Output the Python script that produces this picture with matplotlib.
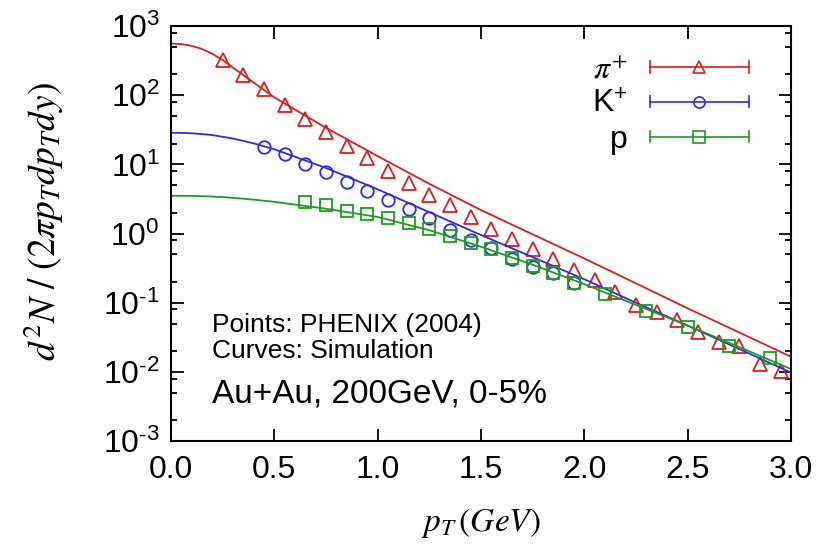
import math
import matplotlib
matplotlib.use("Agg")
import matplotlib.pyplot as plt
from matplotlib.lines import Line2D
from matplotlib.legend_handler import HandlerBase
from matplotlib.ticker import LogLocator, FixedLocator, FuncFormatter

# Data points (PHENIX 2004, Au+Au 200GeV 0-5%)
pion_pt = [0.25, 0.35, 0.45, 0.55, 0.65, 0.75, 0.85, 0.95, 1.05, 1.15, 1.25, 1.35, 1.45, 1.55,
           1.65, 1.75, 1.85, 1.95, 2.05, 2.15, 2.25, 2.35, 2.45, 2.55, 2.65, 2.75, 2.85, 2.95]
pion_y = [323, 196, 122, 72, 46, 29.7, 18.5, 12.2, 8.1, 5.4, 3.6, 2.6, 1.75, 1.15,
          0.83, 0.59, 0.43, 0.30, 0.213, 0.145, 0.093, 0.0745, 0.056, 0.038, 0.0274, 0.0238, 0.013, 0.0104]

kaon_pt = [0.45, 0.55, 0.65, 0.75, 0.85, 0.95, 1.05, 1.15, 1.25, 1.35, 1.45, 1.55, 1.65, 1.75, 1.85, 1.95]
kaon_y = [18, 14.1, 10.1, 7.7, 5.6, 4.17, 3.06, 2.24, 1.66, 1.13, 0.82, 0.61, 0.43, 0.333, 0.267, 0.19]

proton_pt = [0.65, 0.75, 0.85, 0.95, 1.05, 1.15, 1.25, 1.35, 1.45, 1.55, 1.65, 1.75, 1.85, 1.95,
             2.1, 2.3, 2.5, 2.7, 2.9]
proton_y = [2.89, 2.59, 2.14, 1.92, 1.66, 1.41, 1.15, 0.92, 0.72, 0.59, 0.44, 0.34, 0.27, 0.19,
            0.134, 0.077, 0.0443, 0.0238, 0.0158]

# Simulation curves
curve_pt = [0, 0.05, 0.1, 0.15, 0.2, 0.25, 0.3, 0.4, 0.5, 0.75, 1.0, 1.25, 1.5, 1.75, 2.0, 2.25, 2.5, 2.75, 3.0]
curve_pion = [562, 550, 519, 468, 398, 324, 251, 153, 93.3, 33.9, 13.2, 5.25, 2.19, 0.977, 0.437,
              0.191, 0.0832, 0.0372, 0.0166]
curve_kaon = [28.7, 28.6, 28.2, 27.5, 26.6, 25.1, 23.7, 20.2, 16.6, 8.9, 4.37, 2.04, 0.955, 0.457,
              0.219, 0.1, 0.0468, 0.0214, 0.0098]
curve_proton = [3.53, 3.52, 3.51, 3.48, 3.43, 3.37, 3.29, 3.10, 2.88, 2.29, 1.74, 1.12, 0.646, 0.355,
                0.186, 0.093, 0.0468, 0.0229, 0.011]

labels = [r"$\pi^{+}$", r"$\mathregular{K^{+}}$", r"$\mathregular{p}$"]
colors = ["#dd1c1c", "#2a2af2", "#1c9e1c"]
markers = ["^", "o", "s"]

plt.rcParams["font.family"] = ["Liberation Sans", "DejaVu Sans"]
plt.rcParams["mathtext.fontset"] = "stix"


# Legend entry looking like a gnuplot error bar sample: line with end caps and a marker
class HandlerBarra(HandlerBase):
	def create_artists(self, legend, orig_handle, xdescent, ydescent, width, height, fontsize, trans):
		y = height / 2 - ydescent
		x0 = -xdescent
		x1 = -xdescent + width
		c = orig_handle.get_color()
		linea = Line2D([x0, x1], [y, y], color=c, lw=1.2)
		cap0 = Line2D([x0, x0], [y - 4, y + 4], color=c, lw=1.2)
		cap1 = Line2D([x1, x1], [y - 4, y + 4], color=c, lw=1.2)
		punto = Line2D([(x0 + x1) / 2], [y], marker=orig_handle.get_marker(), ms=orig_handle.get_markersize(),
		               mfc="none", mec=c, mew=1.2, ls="none")
		for a in (linea, cap0, cap1, punto):
			a.set_transform(trans)
		return [linea, cap0, cap1, punto]


# Tick labels as 10^n with a plain hyphen like the original
def etiquetaLog(valor, pos):
	exp = int(round(math.log10(valor)))
	if exp < 0:
		return r"$\mathdefault{10^{\text{-}%d}}$" % (-exp)
	return r"$\mathdefault{10^{%d}}$" % exp


fig = plt.figure(figsize=(8.34, 5.5), dpi=100)
ax = fig.add_axes([0.205, 0.198, 0.7434, 0.7545])

curvas = [curve_pion, curve_kaon, curve_proton]
datos = [(pion_pt, pion_y), (kaon_pt, kaon_y), (proton_pt, proton_y)]
tamaños = [10, 9, 9]
handles = []
for i in range(3):
	ax.plot(curve_pt, curvas[i], color=colors[i], lw=1.3)
	ax.plot(datos[i][0], datos[i][1], ls="none", marker=markers[i], ms=tamaños[i], mfc="none",
	        mec=colors[i], mew=1.3)
	handles.append(Line2D([], [], color=colors[i], marker=markers[i], ms=tamaños[i] - 1))

ax.set_yscale("log")
ax.set_xlim(0, 3)
ax.set_ylim(1e-3, 1e3)
ax.yaxis.set_major_locator(LogLocator(base=10, numticks=10))
ax.yaxis.set_minor_locator(LogLocator(base=10, subs=(2, 5, 8), numticks=10))
ax.yaxis.set_major_formatter(FuncFormatter(etiquetaLog))
ax.xaxis.set_major_locator(FixedLocator([0, 0.5, 1.0, 1.5, 2.0, 2.5, 3.0]))
ax.set_xticklabels(["0.0", "0.5", "1.0", "1.5", "2.0", "2.5", "3.0"])
ax.tick_params(which="both", direction="in", top=True, right=True, labelsize=23, width=1.3)
ax.tick_params(which="major", length=9)
ax.tick_params(which="minor", length=4.5)
ax.tick_params(axis="x", pad=10)
ax.tick_params(axis="y", pad=8)
for s in ax.spines.values():
	s.set_linewidth(1.5)

ax.set_xlabel(r"$p_T\,(GeV)$", fontsize=24, labelpad=15)
ax.set_ylabel(r"$d^2N\ /\ (2\pi p_T dp_T dy)$", fontsize=27)
ax.yaxis.set_label_coords(-0.17, 0.53)

ax.text(0.066, 0.263, "Points: PHENIX (2004)", transform=ax.transAxes, fontsize=19, va="baseline")
ax.text(0.066, 0.200, "Curves: Simulation", transform=ax.transAxes, fontsize=19, va="baseline")
ax.text(0.066, 0.092, "Au+Au, 200GeV, 0-5%", transform=ax.transAxes, fontsize=24, va="baseline")

ax.legend(handles, labels, handler_map={Line2D: HandlerBarra()}, loc="upper right",
          bbox_to_anchor=(0.932, 0.93), frameon=False, markerfirst=False, fontsize=23,
          handlelength=3.1, handletextpad=0.7, labelspacing=0.15, borderpad=0, borderaxespad=0)

fig.savefig("out.png", dpi=100)
